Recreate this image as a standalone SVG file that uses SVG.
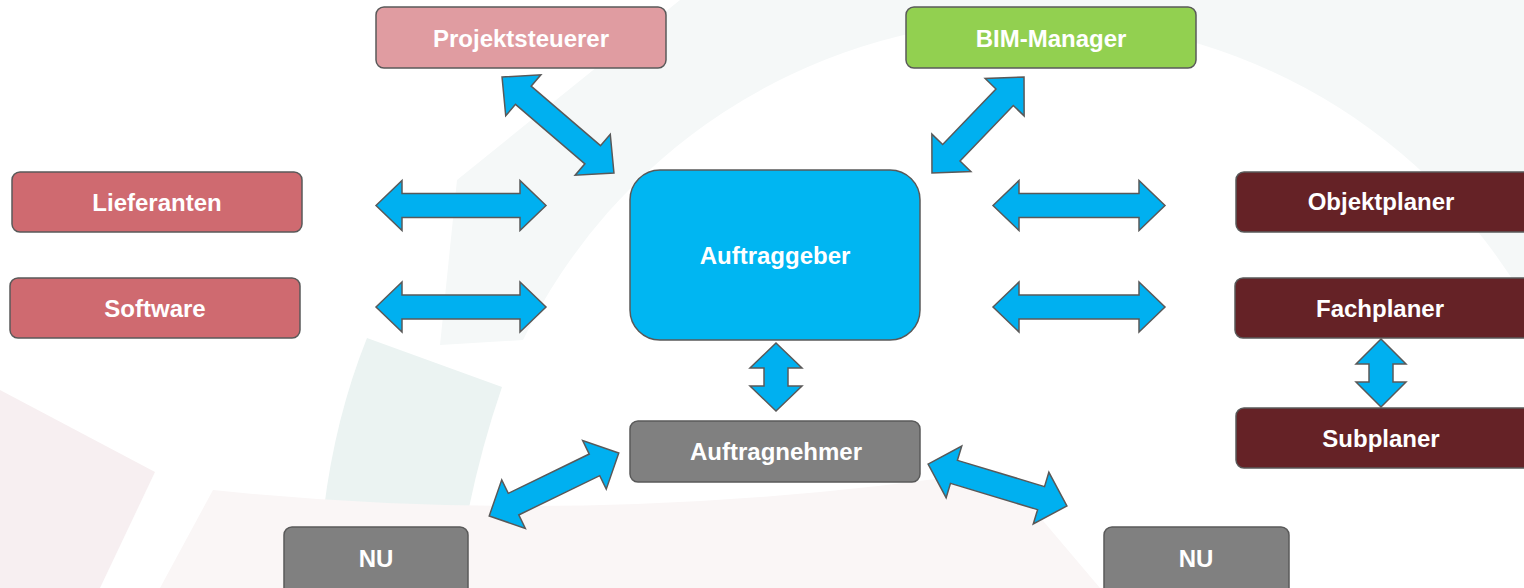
<svg xmlns="http://www.w3.org/2000/svg" width="1524" height="588" viewBox="0 0 1524 588">
<style>
.node{stroke:#595959;stroke-width:1.5}
.lbl{font-family:"Liberation Sans",Arial,sans-serif;font-weight:bold;font-size:24px;fill:#ffffff;text-anchor:middle}
.arr{fill:#00B0F0;stroke:#595959;stroke-width:1.5;stroke-linejoin:miter}
</style>
<rect x="0" y="0" width="1524" height="588" fill="#ffffff"/>
<g id="background">
<path d="M440,345 L457,180 L680,0 L1524,0 L1524,298 A569,569 0 0 0 523,340 Z" fill="#F5F8F8"/>
<path d="M367,338 L502,387 Q470,480 455,588 L318,588 Q322,450 367,338 Z" fill="#EBF3F2"/>
<path d="M0,390 L155,472 L100,588 L0,588 Z" fill="#F7EFF1"/>
<path d="M213,490 Q600,530 1000,470 L1100,588 L160,588 Z" fill="#FAF6F6"/>
</g>
<g id="connectors">
<path class="arr" transform="translate(461,205.5)" d="M-85,0 L-59,-25 L-59,-12 L59,-12 L59,-25 L85,0 L59,25 L59,12 L-59,12 L-59,25 Z"/>
<path class="arr" transform="translate(461,307)" d="M-85,0 L-59,-25 L-59,-12 L59,-12 L59,-25 L85,0 L59,25 L59,12 L-59,12 L-59,25 Z"/>
<path class="arr" transform="translate(1079,205.5)" d="M-86,0 L-60,-25 L-60,-12 L60,-12 L60,-25 L86,0 L60,25 L60,12 L-60,12 L-60,25 Z"/>
<path class="arr" transform="translate(1079,307)" d="M-86,0 L-60,-25 L-60,-12 L60,-12 L60,-25 L86,0 L60,25 L60,12 L-60,12 L-60,25 Z"/>
<path class="arr" transform="translate(776,377) rotate(90)" d="M-34,0 L-9,-26 L-9,-12 L9,-12 L9,-26 L34,0 L9,26 L9,12 L-9,12 L-9,26 Z"/>
<path class="arr" transform="translate(1381,373) rotate(90)" d="M-34,0 L-9,-25 L-9,-12 L9,-12 L9,-25 L34,0 L9,25 L9,12 L-9,12 L-9,25 Z"/>
<path class="arr" transform="translate(558,125) rotate(40.6)" d="M-73.7,0 L-45.7,-27 L-45.7,-12 L45.7,-12 L45.7,-27 L73.7,0 L45.7,27 L45.7,12 L-45.7,12 L-45.7,27 Z"/>
<path class="arr" transform="translate(978,125) rotate(-46.2)" d="M-66.5,0 L-38.5,-27 L-38.5,-12 L38.5,-12 L38.5,-27 L66.5,0 L38.5,27 L38.5,12 L-38.5,12 L-38.5,27 Z"/>
<path class="arr" transform="translate(554,484.5) rotate(-25.9)" d="M-72,0 L-45,-27 L-45,-12 L45,-12 L45,-27 L72,0 L45,27 L45,12 L-45,12 L-45,27 Z"/>
<path class="arr" transform="translate(997.5,485) rotate(16.8)" d="M-72.5,0 L-45.5,-27 L-45.5,-12 L45.5,-12 L45.5,-27 L72.5,0 L45.5,27 L45.5,12 L-45.5,12 L-45.5,27 Z"/>
</g>
<g id="projektsteuerer"><rect class="node" x="376" y="7" width="290" height="61" rx="8" fill="#E09CA1"/><text class="lbl" x="521" y="47">Projektsteuerer</text></g>
<g id="bim-manager"><rect class="node" x="906" y="7" width="290" height="61" rx="8" fill="#92D050"/><text class="lbl" x="1051" y="47">BIM-Manager</text></g>
<g id="lieferanten"><rect class="node" x="12" y="172" width="290" height="60" rx="8" fill="#CF6A70"/><text class="lbl" x="157" y="211">Lieferanten</text></g>
<g id="software"><rect class="node" x="10" y="278" width="290" height="60" rx="8" fill="#CF6A70"/><text class="lbl" x="155" y="317">Software</text></g>
<g id="auftraggeber"><rect class="node" x="630" y="170" width="290" height="170" rx="30" fill="#00B6F2"/><text class="lbl" x="775" y="264">Auftraggeber</text></g>
<g id="objektplaner"><rect class="node" x="1236" y="172" width="296" height="60" rx="8" fill="#652226"/><text class="lbl" x="1381" y="210">Objektplaner</text></g>
<g id="fachplaner"><rect class="node" x="1235" y="278" width="297" height="60" rx="8" fill="#652226"/><text class="lbl" x="1380" y="317">Fachplaner</text></g>
<g id="subplaner"><rect class="node" x="1236" y="408" width="296" height="60" rx="8" fill="#652226"/><text class="lbl" x="1381" y="447">Subplaner</text></g>
<g id="auftragnehmer"><rect class="node" x="630" y="421" width="290" height="61" rx="8" fill="#808080"/><text class="lbl" x="776" y="460">Auftragnehmer</text></g>
<g id="nu-left"><rect class="node" x="284" y="527" width="184" height="70" rx="8" fill="#808080"/><text class="lbl" x="376" y="567">NU</text></g>
<g id="nu-right"><rect class="node" x="1104" y="527" width="185" height="70" rx="8" fill="#808080"/><text class="lbl" x="1196" y="567">NU</text></g>
</svg>
